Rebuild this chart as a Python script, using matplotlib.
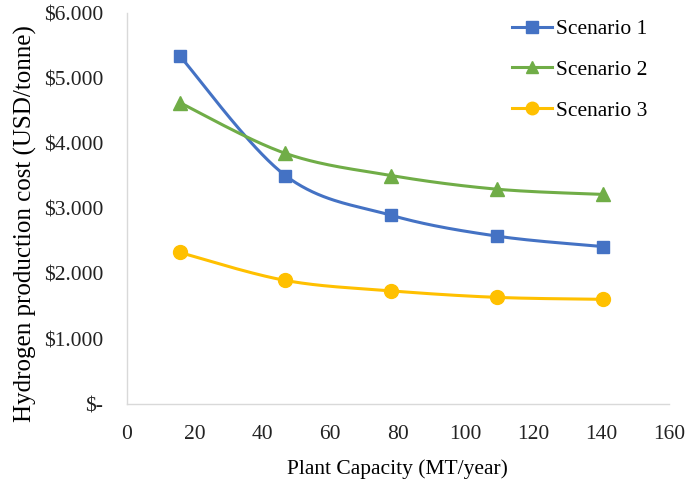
import numpy as np
import matplotlib
matplotlib.use("Agg")
import matplotlib.pyplot as plt
from matplotlib.lines import Line2D
from matplotlib.ticker import FuncFormatter

# Plant capacity (MT/year) and production cost (USD/tonne)
capacity = [15.6, 46.8, 78.0, 109.2, 140.4]
scenario_1 = [5350, 3510, 2900, 2580, 2420]
scenario_2 = [4630, 3850, 3510, 3300, 3220]
scenario_3 = [2330, 1900, 1740, 1640, 1610]
series_names = ["Scenario 1", "Scenario 2", "Scenario 3"]
colors = ["#4472C4", "#70AD47", "#FFC000"]
markers = ["s", "^", "o"]
marker_sizes = [9, 10, 10]

plt.rcParams["font.family"] = ["Liberation Serif", "DejaVu Serif"]


def smooth(x, y, n=40):
    """Catmull-Rom style Bezier smoothing through every point."""
    x = np.asarray(x, float)
    y = np.asarray(y, float)
    pts = np.column_stack([x, y])
    out = []
    for i in range(len(pts) - 1):
        p0 = pts[i - 1] if i > 0 else pts[i]
        p1 = pts[i]
        p2 = pts[i + 1]
        p3 = pts[i + 2] if i + 2 < len(pts) else pts[i + 1]
        c1 = p1 + (p2 - p0) / 6.0
        c2 = p2 - (p3 - p1) / 6.0
        t = np.linspace(0, 1, n)[:, None]
        seg = ((1 - t) ** 3) * p1 + 3 * ((1 - t) ** 2) * t * c1 \
            + 3 * (1 - t) * t ** 2 * c2 + t ** 3 * p2
        out.append(seg if i == 0 else seg[1:])
    curve = np.vstack(out)
    return curve[:, 0], curve[:, 1]


fig = plt.figure(figsize=(6.92, 4.90), dpi=100)
ax = fig.add_axes([0.183, 0.175, 0.784, 0.798])

handles = []
for vals, name, c, m, ms in zip([scenario_1, scenario_2, scenario_3],
                                series_names, colors, markers, marker_sizes):
    sx, sy = smooth(capacity, vals)
    ax.plot(sx, sy, color=c, lw=2.2, solid_capstyle="round", zorder=2)
    ax.plot(capacity, vals, linestyle="none", marker=m, markersize=ms,
            color=c, markeredgecolor=c, zorder=3)
    handles.append(Line2D([], [], color=c, lw=2.2, marker=m, markersize=ms - 1,
                          markeredgecolor=c, label=name))

ax.set_xlim(0, 160)
ax.set_ylim(0, 6000)
ax.set_xticks(np.arange(0, 161, 20))
ax.set_yticks(np.arange(0, 6001, 1000))


def money(v, pos):
    if v == 0:
        return "$-"
    return "$" + f"{int(v):,}".replace(",", ".")


ax.yaxis.set_major_formatter(FuncFormatter(money))
ax.tick_params(axis="both", length=0, labelsize=15.5, colors="#222222")
ax.tick_params(axis="y", pad=17)
ax.tick_params(axis="x", pad=15)

for s in ["top", "right"]:
    ax.spines[s].set_visible(False)
for s in ["left", "bottom"]:
    ax.spines[s].set_color("#d9d9d9")
    ax.spines[s].set_linewidth(1.0)

ax.set_xlabel("Plant Capacity (MT/year)", fontsize=15.5, labelpad=11)
ax.set_ylabel("Hydrogen production cost (USD/tonne)", fontsize=18)
ax.yaxis.set_label_coords(-0.165, 0.461)

leg = ax.legend(handles=handles, loc="upper left",
                bbox_to_anchor=(512 / 692, 1 - 19 / 490),
                bbox_transform=fig.transFigure, frameon=False, fontsize=15.5,
                handlelength=1.85, handletextpad=0.2, labelspacing=0.97,
                borderpad=0, borderaxespad=0)

fig.savefig("out.png", dpi=100)
